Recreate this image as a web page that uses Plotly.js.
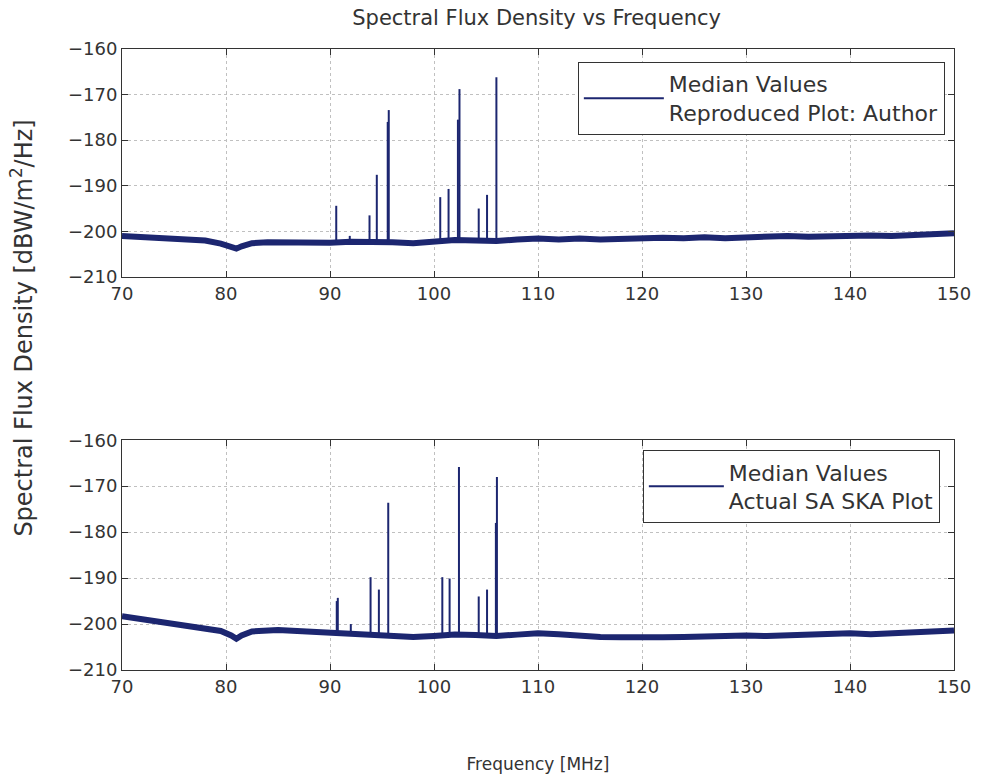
<!DOCTYPE html>
<html>
<head>
<meta charset="utf-8">
<script src="https://cdn.plot.ly/plotly-3.0.1.min.js"></script>
<style>html,body{margin:0;padding:0;background:#fff;}#chart{width:981px;height:782px;}</style>
</head>
<body>
<div id="chart"></div>
<script>
// ---- Top panel: Reproduced Plot (Author) ----
const topBaseFreq = [70,72,74,76,78,79.5,80.5,81,81.5,82.5,84,86,88,90,92,94,96,98,100,102,104,106,108,110,112,114,116,118,120,122,124,126,128,130,132,134,136,138,140,142,144,146,148,150];
const topBaseVal  = [-201.0,-201.2,-201.3,-201.5,-202.0,-202.7,-203.3,-203.8,-203.3,-202.6,-202.4,-202.5,-202.7,-202.5,-202.3,-202.2,-202.4,-202.6,-202.2,-201.9,-202.0,-202.1,-201.8,-201.6,-201.8,-201.6,-201.8,-201.6,-201.5,-201.4,-201.5,-201.3,-201.5,-201.3,-201.2,-201.0,-201.2,-201.0,-201.0,-200.9,-201.0,-200.8,-200.6,-200.4];
const topSpikeFreq = [90.6,91.9,93.8,94.5,95.55,95.65,100.6,101.4,102.3,102.45,104.3,105.1,106.0];
const topSpikePeak = [-194.4,-201.0,-196.5,-187.6,-176.0,-173.4,-192.5,-190.7,-175.5,-168.8,-195.0,-192.0,-166.2];
const topSpikeFoot = [-202.5,-202.4,-202.2,-202.2,-202.3,-202.3,-202.2,-202.0,-201.9,-201.9,-202.0,-202.0,-202.1];

// ---- Bottom panel: Actual SA SKA Plot ----
const botBaseFreq = [70,72,74,76,78,79.5,80.5,81,81.5,82.5,85,88,90,92,94,96,98,100,102,104,106,108,110,112,114,116,118,120,122,124,126,128,130,132,134,136,138,140,142,144,146,148,150];
const botBaseVal  = [-198.3,-199.0,-199.6,-200.2,-200.8,-201.5,-202.5,-203.2,-202.5,-201.6,-201.3,-201.6,-201.9,-202.1,-202.3,-202.5,-202.8,-202.6,-202.3,-202.4,-202.6,-202.3,-202.0,-202.2,-202.6,-202.8,-202.9,-203.0,-202.9,-202.8,-202.6,-202.4,-202.5,-202.6,-202.4,-202.3,-202.2,-202.0,-202.2,-202.0,-201.8,-201.6,-201.4];
const botSpikeFreq = [90.65,90.75,92.0,93.9,94.7,95.6,100.8,101.5,102.4,104.3,105.1,105.95,106.05];
const botSpikePeak = [-195.0,-194.3,-200.0,-189.8,-192.5,-173.6,-189.8,-190.1,-165.8,-194.0,-192.5,-178.0,-168.0];
const botSpikeFoot = [-201.9,-201.9,-202.0,-202.3,-202.4,-202.5,-202.6,-202.5,-202.3,-202.4,-202.5,-202.6,-202.6];

const xTicks = [70,80,90,100,110,120,130,140,150];
const yTicks = [-210,-200,-190,-180,-170,-160];

const lineColor = '#1c2670';

function spikes(f, peak, foot) {
  const xs = [], ys = [];
  for (let i = 0; i < f.length; i++) { xs.push(f[i], f[i], null); ys.push(foot[i], peak[i], null); }
  return {x: xs, y: ys};
}
const ts = spikes(topSpikeFreq, topSpikePeak, topSpikeFoot);
const bs = spikes(botSpikeFreq, botSpikePeak, botSpikeFoot);

const traces = [
  {x: topBaseFreq, y: topBaseVal, xaxis:'x', yaxis:'y', mode:'lines', line:{color:lineColor, width:6}, showlegend:false, hoverinfo:'skip'},
  {x: ts.x, y: ts.y, xaxis:'x', yaxis:'y', mode:'lines', line:{color:lineColor, width:2}, name:'Median Values<br>Reproduced Plot: Author', legend:'legend', connectgaps:false},
  {x: botBaseFreq, y: botBaseVal, xaxis:'x2', yaxis:'y2', mode:'lines', line:{color:lineColor, width:6}, showlegend:false, hoverinfo:'skip'},
  {x: bs.x, y: bs.y, xaxis:'x2', yaxis:'y2', mode:'lines', line:{color:lineColor, width:2}, name:'Median Values<br>Actual SA SKA Plot', legend:'legend2', connectgaps:false}
];

const fontFam = 'DejaVu Sans, Liberation Sans, Arial, sans-serif';
const txt = '#333';
function xax(anchor, extra) {
  return Object.assign({
    anchor: anchor, range:[70,150], tickvals:xTicks, ticktext:xTicks.map(String),
    showline:true, mirror:'ticks', linecolor:'#333', linewidth:1,
    ticks:'inside', ticklen:6, tickcolor:'#333',
    showgrid:true, gridcolor:'#c0c0c0', griddash:'dot', gridwidth:1,
    zeroline:false, tickfont:{size:18, color:txt, family:fontFam}
  }, extra || {});
}
function yax(anchor, domain) {
  return {
    anchor: anchor, domain: domain, range:[-210,-160], tickvals:yTicks, ticktext:yTicks.map(v => '\u2212' + Math.abs(v)),
    showline:true, mirror:'ticks', linecolor:'#333', linewidth:1,
    ticks:'inside', ticklen:6, tickcolor:'#333',
    showgrid:true, gridcolor:'#c0c0c0', griddash:'dot', gridwidth:1,
    zeroline:false, tickfont:{size:18, color:txt, family:fontFam}
  };
}

const layout = {
  width:981, height:782,
  paper_bgcolor:'#fff', plot_bgcolor:'#fff',
  margin:{l:122, r:27, t:49, b:112},
  font:{family:fontFam, color:txt},
  title:{text:'Spectral Flux Density vs Frequency', font:{size:21, color:txt, family:fontFam}, x:0.547, xanchor:'center', y:0.977, yanchor:'middle'},
  xaxis: xax('y'),
  yaxis: yax('x', [0.633, 1]),
  xaxis2: xax('y2', {title:{text:'Frequency [MHz]', font:{size:17, color:txt, family:fontFam}, standoff:62}}),
  yaxis2: yax('x2', [0, 0.370]),
  legend: {x:0.989, xanchor:'right', y:0.979, yanchor:'top', bgcolor:'#fff', bordercolor:'#333', borderwidth:1, itemwidth:80, font:{size:22, color:txt, family:fontFam}},
  legend2: {x:0.983, xanchor:'right', y:0.354, yanchor:'top', bgcolor:'#fff', bordercolor:'#333', borderwidth:1, itemwidth:75, font:{size:22, color:txt, family:fontFam}},
  annotations: [{
    text:'Spectral Flux Density [dBW/m<sup>2</sup>/Hz]', textangle:-90, showarrow:false,
    xref:'paper', yref:'paper', x:-0.12, y:0.55, xanchor:'center', yanchor:'middle',
    font:{size:24, color:txt, family:fontFam}
  }],
  showlegend:true
};

Plotly.newPlot('chart', traces, layout, {displayModeBar:false, staticPlot:true});
</script>
</body>
</html>
